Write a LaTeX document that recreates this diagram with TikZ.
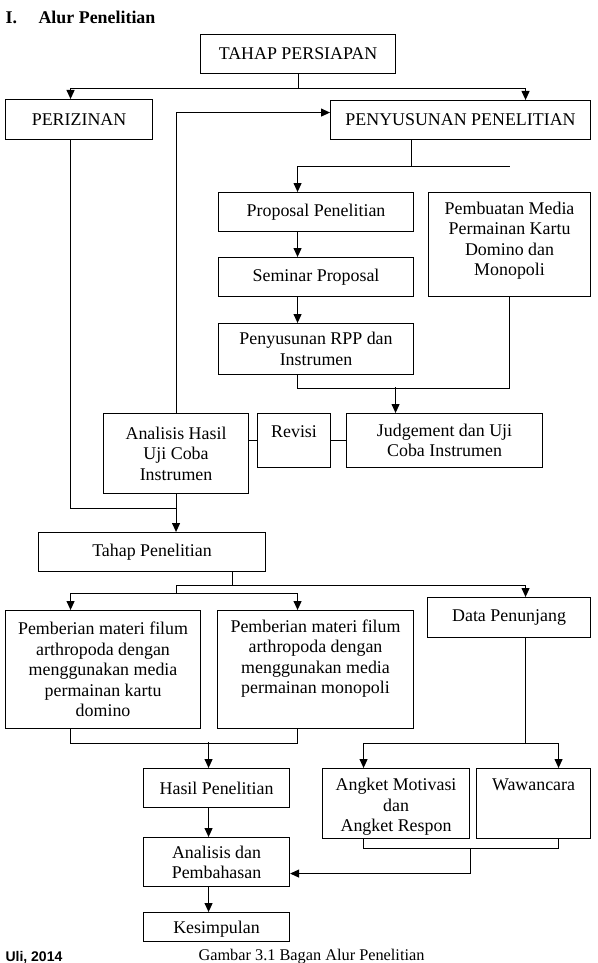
\documentclass[tikz,border=0pt]{standalone}
\usepackage{fontspec}
\setmainfont{Liberation Serif}
\newfontfamily\ulifont{Liberation Sans}
\usetikzlibrary{calc}
\usetikzlibrary{arrows.meta}

\begin{document}
\begin{tikzpicture}[x=1pt,y=-1pt,line width=1.1pt,
    >={Triangle[length=9pt,width=8pt]},
    kotak/.style={draw, align=center, inner sep=0pt, anchor=north west,
        font=\fontsize{17.9}{20.5}\selectfont}]
    \useasboundingbox (0,0) rectangle (597,963);
    % judul
    \node[anchor=base west, inner sep=0pt, font=\bfseries\fontsize{17.9}{20.5}\selectfont] (nomor) at (5,24) {I.};
    \node[anchor=base west, inner sep=0pt, font=\bfseries\fontsize{17.9}{20.5}\selectfont] (judul) at (38,24) {Alur Penelitian};

    % kotak-kotak
    \node[kotak, minimum width=195pt, minimum height=39pt] (persiapan) at (200,34) {TAHAP PERSIAPAN};
    \node[kotak, minimum width=147pt, minimum height=40pt] (perizinan) at (5,99) {PERIZINAN};
    \node[kotak, minimum width=260pt, minimum height=39pt] (penyusunan) at (330,100) {PENYUSUNAN PENELITIAN};
    \node[kotak, minimum width=195pt, minimum height=39pt] (proposal) at (218,192) {Proposal Penelitian};
    \node[kotak, minimum width=162pt, text height=83pt, text depth=21pt] (media) at (428,192) {Pembuatan Media\\Permainan Kartu\\Domino dan\\Monopoli};
    \node[kotak, minimum width=195pt, minimum height=39pt] (seminar) at (218,257) {Seminar Proposal};
    \node[kotak, minimum width=195pt, minimum height=51pt] (rpp) at (218,323) {Penyusunan RPP dan\\Instrumen};
    \node[kotak, minimum width=145pt, minimum height=80pt] (analisisuji) at (103,413) {Analisis Hasil\\Uji Coba\\Instrumen};
    \node[kotak, minimum width=73pt, text height=24pt, text depth=30pt] (revisi) at (257,413) {Revisi};
    \node[kotak, minimum width=196pt, minimum height=54pt] (judgement) at (346,413) {Judgement dan Uji\\Coba Instrumen};
    \node[kotak, minimum width=227pt, minimum height=39pt] (tahappenelitian) at (38,532) {Tahap Penelitian};
    \node[kotak, minimum width=195pt, minimum height=118pt] (domino) at (5,610) {Pemberian materi filum\\arthropoda dengan\\menggunakan media\\permainan kartu\\domino};
    \node[kotak, minimum width=196pt, text height=83pt, text depth=35pt] (monopoli) at (217,610) {Pemberian materi filum\\arthropoda dengan\\menggunakan media\\permainan monopoli};
    \node[kotak, minimum width=163pt, minimum height=40pt] (penunjang) at (427,597) {Data Penunjang};
    \node[kotak, minimum width=146pt, minimum height=39pt] (hasil) at (143,768) {Hasil Penelitian};
    \node[kotak, minimum width=146pt, text height=41pt, text depth=8pt] (pembahasan) at (143,837) {Analisis dan\\Pembahasan};
    \node[kotak, minimum width=146pt, text height=21pt, text depth=8pt] (kesimpulan) at (143,912) {Kesimpulan};
    \node[kotak, minimum width=147pt, text height=63pt, text depth=7pt] (angket) at (322,768) {Angket Motivasi\\dan\\Angket Respon};
    \node[kotak, minimum width=114pt, text height=22pt, text depth=48pt] (wawancara) at (476,768) {Wawancara};

    % tahap persiapan
    \coordinate (cabang1) at ($(persiapan.south)+(0,14)$);
    \draw (persiapan.south) -- (cabang1);
    \draw[->] (cabang1) -| ($(perizinan.north)+(-8.5,0)$);
    \draw[->] (cabang1) -| ($(penyusunan.north)+(65,0)$);

    % perizinan dan umpan balik
    \coordinate (gabung) at ($(analisisuji.south)+(0,14)$);
    \draw ($(perizinan.south)+(-8.5,0)$) |- (gabung);
    \draw[->] (analisisuji.south) -- (analisisuji.south |- tahappenelitian.north);
    \draw[->] (analisisuji.north) |- ($(penyusunan.west)+(0,-7.5)$);

    % penyusunan penelitian
    \coordinate (cabang2) at ($(penyusunan.south)+(-49,26)$);
    \draw ($(penyusunan.south)+(-49,0)$) -- (cabang2);
    \draw[->] ($(cabang2)+(98,0)$) -| ($(proposal.north)+(-18.5,0)$);
    \draw[->] ($(proposal.south)+(-18.5,0)$) -- ($(seminar.north)+(-18.5,0)$);
    \draw[->] ($(seminar.south)+(-18.5,0)$) -- ($(rpp.north)+(-18.5,0)$);

    \coordinate (cabang3) at ($(rpp.south)+(-18.5,13)$);
    \draw ($(rpp.south)+(-18.5,0)$) -- (cabang3) -| (media.south);
    \draw[->] ($(judgement.north)+(-49,-26)$) -- ($(judgement.north)+(-49,0)$);

    % revisi
    \draw (analisisuji.east |- revisi.west) -- (revisi.west);
    \draw (revisi.east) -- (judgement.west);

    % tahap penelitian
    \coordinate (cabang4) at ($(tahappenelitian.south)+(80.5,13)$);
    \coordinate (kiri4) at ($(analisisuji.south)+(0,91)$);
    \coordinate (cabang5) at ($(analisisuji.south)+(0,99)$);
    \draw ($(tahappenelitian.south)+(80.5,0)$) -- (cabang4);
    \draw[->] (kiri4) -| ($(penunjang.north)+(16.5,0)$);
    \draw (kiri4) -- (cabang5);
    \draw[->] (cabang5) -| ($(domino.north)+(-32.5,0)$);
    \draw[->] (cabang5) -| ($(monopoli.north)+(-18,0)$);

    \draw ($(domino.south)+(-32.5,0)$) |- ($(monopoli.south)+(-18,14)$) -- ($(monopoli.south)+(-18,0)$);
    \draw[->] ($(hasil.north)+(-8,-26)$) -- ($(hasil.north)+(-8,0)$);
    \draw[->] ($(hasil.south)+(-8,0)$) -- ($(pembahasan.north)+(-8,0)$);
    \draw[->] ($(pembahasan.south)+(-8,0)$) -- ($(kesimpulan.north)+(-8,0)$);

    % data penunjang
    \coordinate (cabang6) at ($(penunjang.south)+(16.5,105)$);
    \draw ($(penunjang.south)+(16.5,0)$) -- (cabang6);
    \draw[->] (cabang6) -| ($(angket.north)+(-32.5,0)$);
    \draw[->] (cabang6) -| ($(wawancara.north)+(25,0)$);
    \draw ($(angket.south)+(-32.5,0)$) |- ($(wawancara.south)+(25,9)$) -- ($(wawancara.south)+(25,0)$);
    \draw[->] ($(angket.south east)+(0,9)$) |- ($(pembahasan.east)+(0,11.5)$);

    % keterangan
    \node[anchor=base west, inner sep=0pt, font=\fontsize{16.3}{18}\selectfont] (gambar) at (198,960) {Gambar 3.1 Bagan Alur Penelitian};
    \node[anchor=base west, inner sep=0pt, font=\ulifont\bfseries\fontsize{14}{16}\selectfont] (sumber) at (5,961) {Uli, 2014};
\end{tikzpicture}
\end{document}
